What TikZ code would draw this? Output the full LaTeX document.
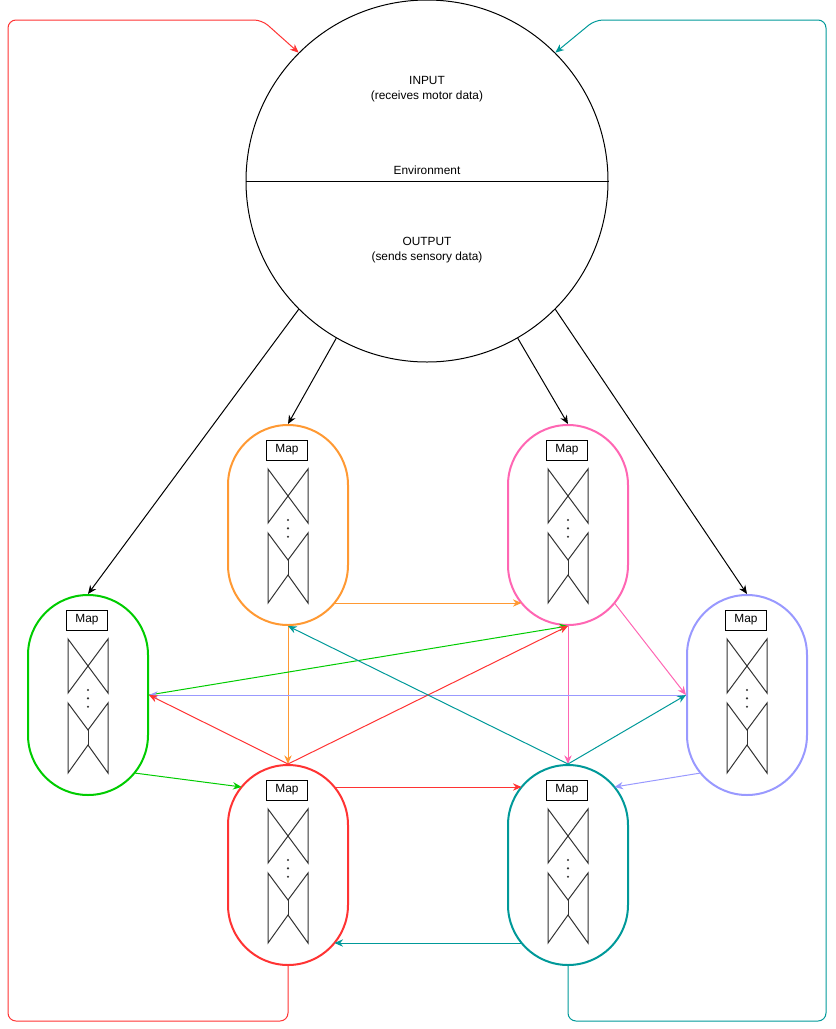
\documentclass[tikz,border=0pt]{standalone}
\usepackage{fontspec}
\setmainfont{Liberation Sans}
\usepackage{xcolor}
\usetikzlibrary{arrows.meta, calc, positioning}

\definecolor{cOrange}{HTML}{FF9933}
\definecolor{cPink}{HTML}{FF66B3}
\definecolor{cGreen}{HTML}{00CC00}
\definecolor{cViolet}{HTML}{9999FF}
\definecolor{cRed}{HTML}{FF3333}
\definecolor{cTeal}{HTML}{009999}

\begin{document}
\begin{tikzpicture}[
		x=0.75pt, y=-0.75pt,
		font=\fontsize{8.9}{11.25}\selectfont,
		module/.style={draw=#1, line width=1.5pt, rounded corners=45pt, minimum width=90pt, minimum height=150pt, inner sep=0pt},
		mapbox/.style={draw, line width=0.75pt, minimum width=30.5pt, minimum height=15pt, inner sep=0pt},
		link/.style={draw=#1, line width=0.75pt, -{Stealth[length=6.5pt, width=5.5pt]}},
		valve/.style={draw=black!80, line width=0.75pt}
		]
	\useasboundingbox (0,0) rectangle (836,1029);

	% --- Environnement ---
	\node[draw, circle, line width=0.75pt, minimum size=271.5pt, inner sep=0pt] (E) at (427,181) {};
	\draw[line width=0.75pt] (E.west) -- (E.east);
	\node[align=center] (In) at (427,89.5) {INPUT\\(receives motor data)};
	\node (Env) at (427,170) {Environment};
	\node[align=center] (Out) at (427,250.5) {OUTPUT\\(sends sensory data)};

	% --- Modules ---
	\node[module=cOrange] (O) at (288,525) {};
	\node[module=cPink]   (P) at (568,525) {};
	\node[module=cGreen]  (G) at (88,695) {};
	\node[module=cViolet] (V) at (747,695) {};
	\node[module=cRed]    (R) at (288,865) {};
	\node[module=cTeal]   (T) at (568,865) {};

	\foreach \m in {O,P,G,V,R,T} {
		\node[mapbox] (map\m) at ($(\m)+(-1,-75)$) {Map};
		\draw[valve] ($(\m)+(-20,-56)$) -- ($(\m)+(-20,-2)$) -- ($(\m)+(20,-56)$) -- ($(\m)+(20,-2)$) -- cycle;
		\draw[valve] ($(\m)+(-20,8)$) -- ($(\m)+(-20,78)$) -- ($(\m)+(0,50)$) -- ($(\m)+(20,78)$) -- ($(\m)+(20,8)$) -- ($(\m)+(0,35)$) -- cycle;
		\draw[valve] ($(\m)+(0,35)$) -- ($(\m)+(0,50)$);
		\foreach \d in {-5,3.3,11.7}
			\fill[black!80] ($(\m)+(0,\d)$) circle (0.9pt);
	}

	% --- Sorties de l'environnement ---
	\draw[link=black] (E.225) -- (G.north);
	\draw[link=black] (E.240) -- (O.north);
	\draw[link=black] (E.300) -- (P.north);
	\draw[link=black] (E.315) -- (V.north);

	% --- Liens entre modules ---
	\draw[link=cOrange] ($(O)+(46.4,78)$) -- ($(P)+(-46.4,78)$);
	\draw[link=cOrange] (O.south) -- (R.north);
	\draw[link=cPink] (P.south) -- (T.north);
	\draw[link=cPink] ($(P)+(46.4,78)$) -- (V.west);
	\draw[link=cGreen] (G.east) -- (P.south);
	\draw[link=cGreen] ($(G)+(46.4,78)$) -- ($(R)+(-46.4,-78)$);
	\draw[link=cViolet] (V.west) -- (G.east);
	\draw[link=cViolet] ($(V)+(-46.4,78)$) -- ($(T)+(46.4,-78)$);
	\draw[link=cRed] (R.north) -- (G.east);
	\draw[link=cRed] (R.north) -- (P.south);
	\draw[link=cRed] ($(R)+(46.4,-78)$) -- ($(T)+(-46.4,-78)$);
	\draw[link=cTeal] (T.north) -- (O.south);
	\draw[link=cTeal] (T.north) -- (V.west);
	\draw[link=cTeal] ($(T)+(-46.4,78)$) -- ($(R)+(46.4,78)$);

	% --- Retours vers l'environnement ---
	\draw[link=cRed, rounded corners=6pt] (R.south) -- ++(0,55) -| (8,20) -- (262,20) -- (E.135);
	\draw[link=cTeal, rounded corners=6pt] (T.south) -- ++(0,55) -| (826,20) -- (595,20) -- (E.45);

\end{tikzpicture}
\end{document}
